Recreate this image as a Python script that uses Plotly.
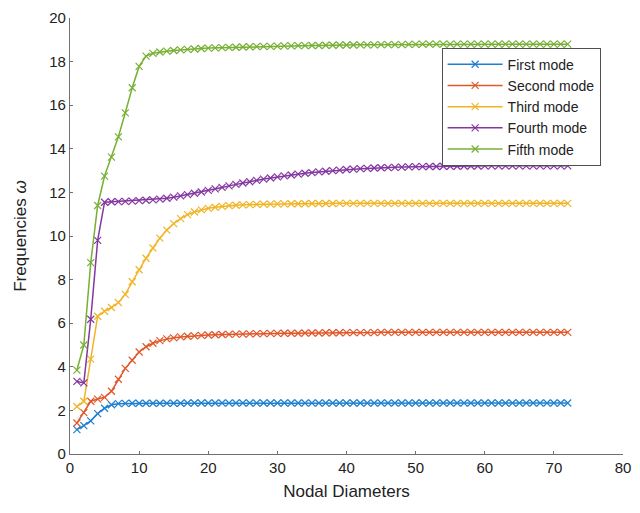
import plotly.graph_objects as go

# Nodal diameters 1..72
nodal_diameters = list(range(1, 73))

first_mode = [1.12, 1.3, 1.52, 1.85, 2.1, 2.26, 2.31, 2.32] + [2.33] * 8 + [2.34] * 56

second_mode = [1.42, 1.9, 2.42, 2.52, 2.6, 2.88, 3.43, 3.93, 4.3, 4.68,
               4.92, 5.08, 5.2, 5.28, 5.33, 5.37, 5.4, 5.42, 5.44, 5.46,
               5.47, 5.48, 5.49, 5.5, 5.5, 5.51, 5.52, 5.52, 5.53, 5.53,
               5.54, 5.54, 5.54, 5.55, 5.55, 5.55, 5.56, 5.56, 5.56, 5.57,
               5.57, 5.57, 5.57, 5.57, 5.58, 5.58, 5.58, 5.58, 5.58, 5.58] + [5.58] * 22

third_mode = [2.18, 2.42, 4.35, 6.32, 6.55, 6.72, 6.95, 7.32, 7.9, 8.45,
              8.98, 9.45, 9.9, 10.27, 10.57, 10.8, 10.98, 11.1, 11.2, 11.27,
              11.32, 11.36, 11.39, 11.41, 11.43, 11.44, 11.45, 11.46, 11.46, 11.47,
              11.47, 11.48, 11.48, 11.48, 11.49, 11.49, 11.49, 11.49, 11.5, 11.5] + [11.5] * 32

fourth_mode = [3.33, 3.26, 6.18, 9.8, 11.55, 11.57, 11.58, 11.59, 11.6, 11.62,
               11.64, 11.66, 11.69, 11.73, 11.78, 11.84, 11.9, 11.96, 12.02, 12.09,
               12.16, 12.23, 12.3, 12.37, 12.43, 12.49, 12.55, 12.61, 12.66, 12.71,
               12.76, 12.8, 12.84, 12.88, 12.91, 12.94, 12.97, 13.0, 13.02, 13.05,
               13.07, 13.09, 13.1, 13.12, 13.13, 13.14, 13.15, 13.16, 13.17, 13.18,
               13.18, 13.19, 13.19, 13.2, 13.2, 13.2, 13.21, 13.21, 13.21, 13.22] + [13.22] * 12

fifth_mode = [3.85, 5.0, 8.78, 11.4, 12.75, 13.62, 14.55, 15.65, 16.8, 17.78,
              18.25, 18.38, 18.44, 18.48, 18.51, 18.54, 18.56, 18.58, 18.6, 18.62,
              18.63, 18.64, 18.65, 18.66, 18.67, 18.68, 18.69, 18.7, 18.7, 18.71,
              18.72, 18.72, 18.73, 18.73, 18.74, 18.74, 18.75, 18.75, 18.76, 18.76,
              18.76, 18.77, 18.77, 18.77, 18.78, 18.78, 18.78, 18.78, 18.79, 18.79] + [18.8] * 22

series = [
    ("First mode", first_mode, "#1f80cf"),
    ("Second mode", second_mode, "#e0582a"),
    ("Third mode", third_mode, "#f0b526"),
    ("Fourth mode", fourth_mode, "#8437a0"),
    ("Fifth mode", fifth_mode, "#77b035"),
]

fig = go.Figure()
for name, values, color in series:
    fig.add_trace(go.Scatter(
        x=nodal_diameters, y=values, name=name, mode="lines+markers",
        line=dict(color=color, width=1.5),
        marker=dict(symbol="x-thin-open", size=7, line=dict(color=color, width=1.2)),
    ))

axis_common = dict(
    showgrid=False, zeroline=False, showline=True, linecolor="#707070", linewidth=1.2,
    ticks="inside", ticklen=3, tickcolor="#707070", tickwidth=1,
    tickfont=dict(family="Liberation Sans, Arial", size=15, color="#222222"),
    mirror=False,
)

fig.update_layout(
    width=640, height=513,
    margin=dict(l=70, r=9, t=14, b=59),
    paper_bgcolor="white", plot_bgcolor="white",
    font=dict(family="Liberation Sans, Arial", color="#222222"),
    xaxis=dict(range=[0, 80], dtick=10,
               title=dict(text="Nodal Diameters", font=dict(size=17, color="#222222"), standoff=10),
               **axis_common),
    yaxis=dict(range=[0, 20], dtick=2,
               title=dict(text="Frequencies <i>ω</i>", font=dict(size=17, color="#222222"), standoff=18),
               **axis_common),
    legend=dict(x=0.672, y=0.932, xanchor="left", yanchor="top",
                bgcolor="white", bordercolor="#505050", borderwidth=1,
                font=dict(family="Liberation Sans, Arial", size=14, color="#222222"),
                tracegroupgap=0, itemwidth=55),
    showlegend=True,
)

fig.write_html("out.html")
